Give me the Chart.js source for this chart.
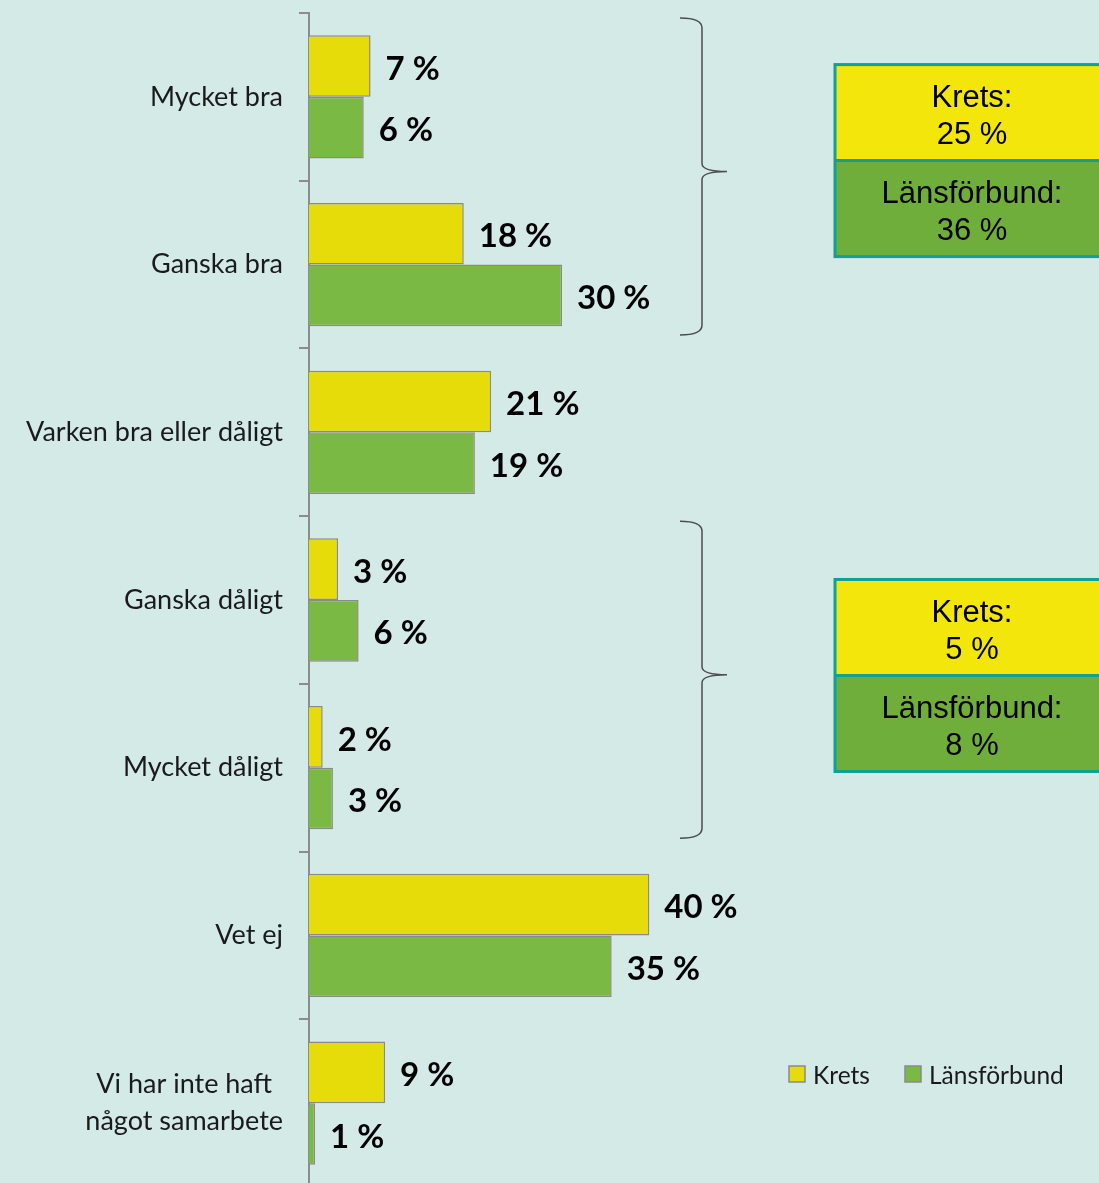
<!DOCTYPE html>
<html>
<head>
<meta charset="utf-8">
<script src="https://cdn.jsdelivr.net/npm/chart.js@4"></script>
<style>
  html, body { margin: 0; padding: 0; background: #d3eae7; overflow: hidden; }
  #wrap { width: 1099px; height: 1187px; }
</style>
</head>
<body>
<div id="wrap"><canvas id="chart"></canvas></div>
<script>
const categories = [['Mycket bra'], ['Ganska bra'], ['Varken bra eller dåligt'], ['Ganska dåligt'], ['Mycket dåligt'], ['Vet ej'], ['Vi har inte haft', 'något samarbete']];
const kretsValues = [7.2, 18.1, 21.3, 3.4, 1.6, 39.8, 8.9];
const lansValues = [6.4, 29.6, 19.4, 5.8, 2.8, 35.4, 0.7];
const seriesNames = ['Krets', 'Länsförbund'];

// brackets on the right: which categories they cover and the totals in the boxes
const groupRanges = [[0, 1], [3, 4]];
const groupKrets = [25, 5];
const groupLans = [36, 8];

const barColors = ['#e6dc0a', '#7aba44'];
const boxColors = ['#f2e60a', '#70ae3c'];
// where the box centres sit, in category units
const boxCentres = [0.38, 3.45];

// draws category labels, value labels, brackets, boxes and the legend
const extras = {
    id: 'extras',
    afterDatasetsDraw(chart) {
        const ctx = chart.ctx;
        const y = chart.scales.y;
        const area = chart.chartArea;
        ctx.save();

        // category labels: single lines right aligned, wrapped ones centred on each other
        ctx.fillStyle = '#1a1a1a';
        ctx.font = '27px Lato';
        ctx.textBaseline = 'middle';
        ctx.textAlign = 'center';
        categories.forEach((lines, i) => {
            const cy = y.getPixelForTick(i);
            const w = Math.max(...lines.map(l => ctx.measureText(l).width));
            const cx = area.left - 26 - w / 2;
            const lh = 37;
            lines.forEach((l, j) => {
                ctx.fillText(l, cx, cy + (j - (lines.length - 1) / 2) * lh);
            });
        });

        // value labels
        ctx.font = 'bold 33px Lato';
        ctx.textAlign = 'left';
        ctx.fillStyle = '#000';
        chart.data.datasets.forEach((ds, di) => {
            chart.getDatasetMeta(di).data.forEach((bar, i) => {
                ctx.fillText(Math.round(ds.data[i]) + ' %', bar.x + 15, bar.y + 3);
            });
        });

        // brackets and summary boxes
        groupRanges.forEach((r, g) => {
            const top = y.getPixelForValue(r[0] - 0.47);
            const bot = y.getPixelForValue(r[1] + 0.42);
            const mid = (top + bot) / 2 - 5;
            const bx = 702;
            ctx.strokeStyle = '#4d4d4d';
            ctx.lineWidth = 1.5;
            ctx.beginPath();
            ctx.moveTo(bx - 22, top);
            ctx.quadraticCurveTo(bx, top, bx, top + 10);
            ctx.lineTo(bx, mid - 8);
            ctx.quadraticCurveTo(bx, mid, bx + 25, mid);
            ctx.moveTo(bx + 25, mid);
            ctx.quadraticCurveTo(bx, mid, bx, mid + 8);
            ctx.lineTo(bx, bot - 10);
            ctx.quadraticCurveTo(bx, bot, bx - 22, bot);
            ctx.stroke();

            const boxX = 835, boxW = 274, half = 96;
            const boxTop = y.getPixelForValue(boxCentres[g]) - half;
            const texts = [['Krets:', groupKrets[g] + ' %'], ['Länsförbund:', groupLans[g] + ' %']];
            texts.forEach((t, k) => {
                const ty = boxTop + k * half;
                ctx.fillStyle = boxColors[k];
                ctx.fillRect(boxX, ty, boxW, half);
                ctx.fillStyle = '#000';
                ctx.font = '31px "Liberation Sans", Arial';
                ctx.textAlign = 'center';
                ctx.textBaseline = 'middle';
                ctx.fillText(t[0], boxX + boxW / 2, ty + half / 2 - 14);
                ctx.fillText(t[1], boxX + boxW / 2, ty + half / 2 + 23);
            });
            ctx.strokeStyle = '#10a096';
            ctx.lineWidth = 3;
            ctx.strokeRect(boxX, boxTop, boxW, half * 2);
            ctx.beginPath();
            ctx.moveTo(boxX, boxTop + half);
            ctx.lineTo(boxX + boxW, boxTop + half);
            ctx.stroke();
        });

        // legend
        ctx.font = '24.5px Lato';
        ctx.textAlign = 'left';
        ctx.textBaseline = 'middle';
        const legendX = [789, 905];
        const legendY = 1074;
        seriesNames.forEach((name, k) => {
            ctx.fillStyle = barColors[k];
            ctx.fillRect(legendX[k], legendY - 8, 16, 16);
            ctx.strokeStyle = '#8a8a8a';
            ctx.lineWidth = 1.5;
            ctx.strokeRect(legendX[k], legendY - 8, 16, 16);
            ctx.fillStyle = '#1a1a1a';
            ctx.fillText(name, legendX[k] + 24, legendY + 2);
        });

        ctx.restore();
    }
};

new Chart(document.getElementById('chart'), {
    type: 'bar',
    data: {
        labels: categories,
        datasets: [
            { label: seriesNames[0], data: kretsValues, backgroundColor: barColors[0], borderColor: '#8a8a8a', borderWidth: 1.5 },
            { label: seriesNames[1], data: lansValues, backgroundColor: barColors[1], borderColor: '#8a8a8a', borderWidth: 1.5 }
        ]
    },
    options: {
        indexAxis: 'y',
        responsive: true,
        maintainAspectRatio: false,
        animation: false,
        categoryPercentage: 0.735,
        barPercentage: 1,
        layout: { padding: { left: 299, right: 0, top: 13, bottom: 0 } },
        plugins: { legend: { display: false }, tooltip: { enabled: false } },
        scales: {
            x: { display: false, min: 0, max: 92.4 },
            y: {
                grid: { drawOnChartArea: false, drawTicks: true, tickLength: 10, color: '#8c8c8c', lineWidth: 2 },
                border: { color: '#8c8c8c', width: 2 },
                ticks: { display: false }
            }
        }
    },
    plugins: [extras]
});
</script>
</body>
</html>
